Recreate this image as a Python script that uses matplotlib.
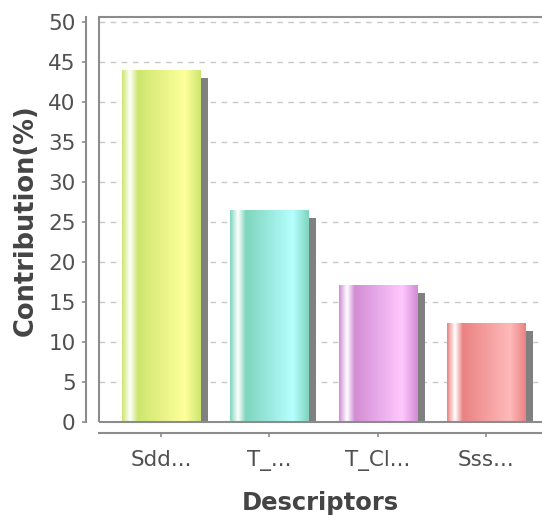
import numpy as np
import matplotlib
matplotlib.use("Agg")
import matplotlib.pyplot as plt
from matplotlib.colors import to_rgb
from matplotlib.patches import Rectangle

# Chart data
categories = ["Sdd...", "T_...", "T_Cl...", "Sss..."]
values = [44.0, 26.5, 17.1, 12.4]
bar_colors = ["#cde66e", "#7fd5bd", "#d28cd3", "#ea8282"]
y_ticks = [0, 5, 10, 15, 20, 25, 30, 35, 40, 45, 50]

W, H, DPI = 542, 517, 100
fig = plt.figure(figsize=(W / DPI, H / DPI), dpi=DPI)
ax = fig.add_axes([98.5 / W, (H - 422) / H, 450 / W, (422 - 17.3) / H])

x = np.arange(len(categories))
bar_w = 0.72
ax.set_xlim(-0.576, len(categories) - 1 + 0.576)
ax.set_ylim(0, 50.55)

# shadow offset: ~8 px right and down
dx = 8 / 108.4
dy = 8 / 8.01


def brighter(c):
    r, g, b = to_rgb(c)
    return tuple(min(1.0, v / 0.7) for v in (r, g, b))


def gradient_row(c0, n=300):
    c0 = np.array(to_rgb(c0))
    c1 = np.array(brighter(c0))
    white = np.ones(3)
    stops = [0.0, 0.10, 0.20, 0.80, 1.0]
    cols = [c0, white, c0, c1, c0]
    t = np.linspace(0, 1, n)
    row = np.zeros((n, 3))
    for i in range(3):
        row[:, i] = np.interp(t, stops, [c[i] for c in cols])
    return row[np.newaxis, :, :]


ax.yaxis.grid(True, color="#c8c8c8", linestyle=(0, (4, 4)), linewidth=1.0)
ax.set_axisbelow(True)

# shadows
ax.bar(x + dx, values, width=bar_w, bottom=-dy, color="#808080",
       linewidth=0, zorder=2)
# bars with horizontal gradient fill
bars = ax.bar(x, values, width=bar_w, color=bar_colors, linewidth=0, zorder=3)
for patch, c in zip(bars.patches, bar_colors):
    x0, y0 = patch.get_x(), patch.get_y()
    im = ax.imshow(gradient_row(c), extent=(x0, x0 + patch.get_width(), y0,
                                            y0 + patch.get_height()),
                   aspect="auto", interpolation="bilinear", zorder=4)
    im.set_clip_path(patch)

# plot area outline
ax.add_patch(Rectangle((0, 0), 1, 1, transform=ax.transAxes, fill=False,
                       edgecolor="#8c8c8c", linewidth=1.5, zorder=5,
                       clip_on=False))

# detached axis lines
for side in ("top", "right"):
    ax.spines[side].set_visible(False)
ax.spines["left"].set_position(("outward", 9))
ax.spines["bottom"].set_position(("outward", 8))
for side in ("left", "bottom"):
    ax.spines[side].set_color("#8c8c8c")
    ax.spines[side].set_linewidth(1.5)

ax.set_yticks(y_ticks)
ax.set_xticks(x)
ax.set_xticklabels(categories)
ax.tick_params(axis="both", colors="#8c8c8c", labelcolor="#505050",
               labelsize=15.5, length=3, width=1.2)
ax.tick_params(axis="y", pad=4.5)
ax.tick_params(axis="x", pad=9)

ax.set_xlabel("Descriptors", fontsize=17.5, fontweight="bold",
              color="#444444")
ax.set_ylabel("Contribution(%)", fontsize=18.5, fontweight="bold",
              color="#444444")
ax.xaxis.set_label_coords((320 - 98.5) / 450, -(503 - 422) / (422 - 17.3))
ax.xaxis.label.set_va("center")
ax.yaxis.set_label_coords(-(98.5 - 26) / 450, 0.5)
ax.yaxis.label.set_va("center")

fig.savefig("out.png", dpi=DPI)
